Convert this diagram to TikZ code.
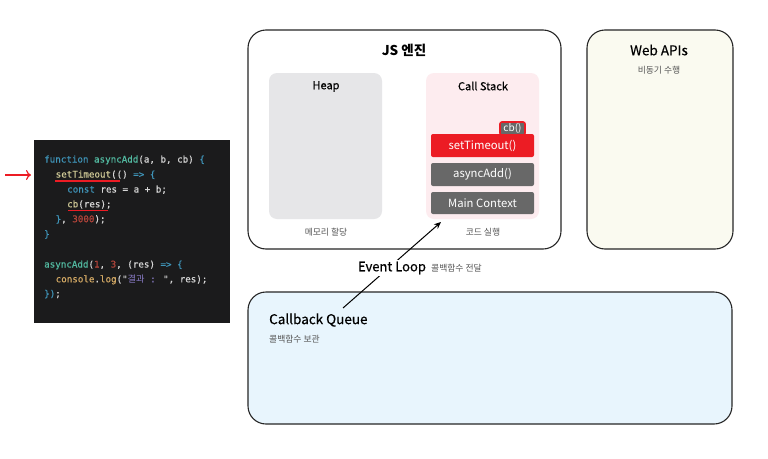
\documentclass[tikz,border=0pt]{standalone}
\usepackage{fontspec}
\setmainfont{Noto Sans CJK KR}
\newfontfamily\codefont[FakeBold=0.5]{DejaVu Sans Mono}
\newfontfamily\cjk{Noto Sans CJK KR}
\newfontfamily\medfont[FakeBold=0.5]{Noto Sans CJK KR}
\usetikzlibrary{arrows.meta}
\definecolor{codebg}{HTML}{1B1B1C}
\definecolor{codetx}{HTML}{D6D6D6}
\definecolor{ckw}{HTML}{3F94B8}
\definecolor{cfn}{HTML}{52B9A0}
\definecolor{cfx}{HTML}{CFC996}
\definecolor{cnum}{HTML}{B3443A}
\definecolor{ccon}{HTML}{D2A864}
\definecolor{cstr}{HTML}{8A7CC8}
\definecolor{heapc}{HTML}{E6E6E8}
\definecolor{stackc}{HTML}{FDECEF}
\definecolor{webc}{HTML}{FAFAF0}
\definecolor{queuec}{HTML}{E8F5FD}
\definecolor{redc}{HTML}{EC1C24}
\definecolor{grayc}{HTML}{686868}
\definecolor{labelc}{HTML}{555555}
\tikzset{
  codeline/.style={anchor=base west, inner sep=0pt, text=codetx, font=\codefont\fontsize{9.2}{10}\selectfont},
  bigbox/.style={draw=black!85, line width=1.1pt, rounded corners=18pt},
  innerbox/.style={rounded corners=8pt},
  stackitem/.style={fill=grayc, rounded corners=2pt, text=white, font=\fontsize{11.3}{12}\selectfont},
  sublabel/.style={text=labelc, font=\fontsize{8.8}{10}\selectfont, inner sep=0pt},
  title/.style={font=\medfont\fontsize{13.5}{15}\selectfont, inner sep=0pt},
}
\begin{document}
\begin{tikzpicture}[x=1pt,y=-1pt]
\useasboundingbox (0,0) rectangle (768,458);
\fill[white] (0,0) rectangle (768,458);

% code block
\fill[codebg] (34,140) rectangle (230,323);
\node[codeline] (l1) at (44,162.5) {\textcolor{ckw}{function} \textcolor{cfn}{asyncAdd}(a, b, cb) \textcolor{ckw}{\{}};
\node[codeline] (l2) at (55.5,177.5) {\textcolor{cfx}{setTimeout}(() \textcolor{ckw}{=> \{}};
\node[codeline] (l3) at (67,192.5) {\textcolor{ckw}{const} res = a + b;};
\node[codeline] (l4) at (67,207.3) {\textcolor{cfx}{cb}(res);};
\node[codeline] (l5) at (55.5,222.2) {\textcolor{ckw}{\}}, \textcolor{cnum}{3000});};
\node[codeline] (l6) at (44,237.2) {\textcolor{ckw}{\}}};
\node[codeline] (l7) at (44,267.5) {\textcolor{cfn}{asyncAdd}(\textcolor{cnum}{1}, \textcolor{cnum}{3}, (res) \textcolor{ckw}{=> \{}};
\node[codeline] (l8) at (55.5,282.3) {\textcolor{ccon}{console}.\textcolor{ccon}{log}("\textcolor{cstr}{{\cjk 결과} :} ", res);};
\node[codeline] (l9) at (44,296.8) {\textcolor{ckw}{\})};};
\draw[redc, line width=1.2pt] (55,181) -- (120,181);
\draw[redc, line width=1.2pt] (68,210.5) -- (108,210.5);
\coordinate (ra) at (5,175);
\coordinate (rb) at (31,175);
\draw[redc, line width=1.2pt, -{To[length=5pt,width=10pt]}] (ra) -- (rb);

% JS engine
\draw[bigbox, fill=white] (248,30) rectangle (561,249);
\node[title, font=\bfseries\fontsize{13.5}{15}\selectfont] (js) at (404,50) {JS 엔진};
\fill[heapc, innerbox] (269,73) rectangle (382,219);
\node[font=\medfont\fontsize{11}{12}\selectfont, inner sep=0pt] (heap) at (326,86.5) {Heap};
\node[sublabel] (mem) at (326,232) {메모리 할당};
\fill[stackc, innerbox] (426,73) rectangle (539,219);
\node[font=\medfont\fontsize{11}{12}\selectfont, inner sep=0pt] (cs) at (483,86) {Call Stack};
\node[sublabel] (run) at (483,232) {코드 실행};
\node[stackitem, fill=redc, minimum width=103pt, minimum height=23pt, inner sep=0pt] (st) at (482.5,145.5) {setTimeout()};
\node[stackitem, draw=redc, line width=1.6pt, minimum width=25pt, minimum height=13pt, inner sep=0pt, font=\fontsize{10}{11}\selectfont] (cb) at (512.5,128.5) {cb()};
\node[stackitem, minimum width=103pt, minimum height=23pt, inner sep=0pt] (aa) at (482.5,174.5) {asyncAdd()};
\node[stackitem, minimum width=103pt, minimum height=22pt, inner sep=0pt] (mc) at (482.5,203) {Main Context};

% Web APIs
\draw[bigbox, fill=webc] (587,30) rectangle (733,249);
\node[title] (web) at (659,50) {Web APIs};
\node[sublabel] (async) at (659,70) {비동기 수행};

% Callback queue
\draw[bigbox, fill=queuec] (248,292) rectangle (732,424);
\node[title, anchor=west] (cq) at (269,320) {Callback Queue};
\node[sublabel, anchor=west] (keep) at (269,339) {콜백함수 보관};

% Event loop arrow
\coordinate (qa) at (343,308);
\coordinate (sa) at (441,222);
\draw[line width=1pt, -{Stealth[length=7pt,width=6pt]}] (qa) -- (sa);
\node[fill=white, font=\medfont\fontsize{13}{14}\selectfont, inner sep=2pt] (el) at (392,268) {Event Loop};
\node[sublabel, anchor=west] (pass) at (431,268) {콜백함수 전달};
\end{tikzpicture}
\end{document}
